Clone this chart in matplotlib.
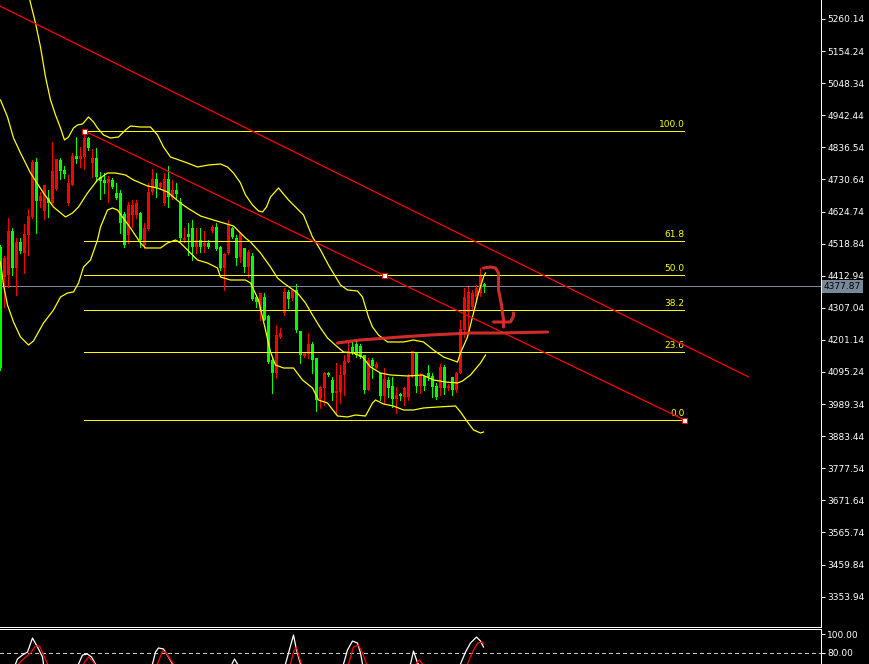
import numpy as np
import matplotlib
matplotlib.use('Agg')
import matplotlib.pyplot as plt
from matplotlib.transforms import blended_transform_factory

# candles (bar index 0..121), prices
opens = [4508, 4409, 4415, 4561, 4438, 4524, 4488, 4547, 4607, 4788,
         4660, 4627, 4669, 4653, 4699, 4795, 4762, 4653, 4712, 4808,
         4798, 4805, 4867, 4785, 4801, 4739, 4729, 4719, 4729, 4686,
         4686, 4617, 4547, 4613, 4613, 4620, 4514, 4567, 4689, 4732,
         4706, 4653, 4732, 4669, 4696, 4656, 4531, 4551, 4570, 4508,
         4531, 4511, 4521, 4561, 4574, 4508, 4438, 4488, 4570, 4537,
         4475, 4504, 4442, 4478, 4343, 4300, 4343, 4280, 4135, 4092,
         4211, 4290, 4359, 4339, 4366, 4231, 4148, 4155, 4188, 4141,
         4006, 4042, 4092, 4069, 4026, 4029, 4085, 4128, 4178, 4188,
         4181, 4151, 4036, 4135, 4108, 4092, 4016, 4069, 4049, 4006,
         4023, 4013, 4013, 4079, 4161, 4049, 4082, 4092, 4082, 4049,
         4042, 4112, 4042, 4079, 4036, 4092, 4234, 4293, 4310, 4343,
         4356, 4386]
highs = [4514, 4478, 4603, 4570, 4537, 4537, 4584, 4633, 4795, 4801,
         4689, 4712, 4696, 4854, 4798, 4801, 4775, 4745, 4818, 4871,
         4838, 4890.5, 4871, 4831, 4834, 4755, 4752, 4742, 4735, 4719,
         4696, 4623, 4656, 4663, 4663, 4623, 4587, 4719, 4765, 4752,
         4722, 4752, 4775, 4729, 4719, 4669, 4570, 4587, 4597, 4570,
         4570, 4561, 4531, 4580, 4587, 4511, 4488, 4597, 4574, 4547,
         4557, 4504, 4498, 4488, 4349, 4356, 4356, 4283, 4141, 4250,
         4240, 4372, 4366, 4369, 4386, 4231, 4161, 4224, 4194, 4141,
         4049, 4095, 4095, 4079, 4125, 4118, 4151, 4194, 4194, 4201,
         4188, 4151, 4141, 4141, 4128, 4092, 4108, 4079, 4079, 4046,
         4026, 4046, 4089, 4165, 4161, 4092, 4082, 4118, 4092, 4059,
         4122, 4118, 4056, 4079, 4095, 4267, 4372, 4376, 4366, 4382,
         4438, 4389]
lows = [4102, 4310, 4376, 4415, 4349, 4488, 4422, 4481, 4603, 4554,
        4640, 4600, 4607, 4653, 4696, 4732, 4735, 4646, 4712, 4785,
        4772, 4765, 4828, 4739, 4726, 4666, 4686, 4656, 4702, 4666,
        4554, 4508, 4521, 4574, 4603, 4508, 4504, 4564, 4683, 4673,
        4699, 4646, 4640, 4666, 4669, 4531, 4524, 4481, 4465, 4488,
        4491, 4491, 4504, 4557, 4498, 4432, 4366, 4485, 4537, 4448,
        4458, 4425, 4409, 4333, 4310, 4267, 4267, 4125, 4026, 4075,
        4207, 4283, 4306, 4333, 4227, 4125, 4145, 4141, 4092, 3966,
        3976, 3986, 4082, 4003, 3960, 3993, 4019, 4128, 4155, 4145,
        4141, 4026, 4036, 4075, 4108, 4003, 3993, 4013, 3980, 3960,
        4003, 3986, 4003, 4079, 4029, 4026, 4036, 4069, 4013, 4006,
        4019, 4023, 4036, 4019, 4029, 4092, 4211, 4227, 4300, 4326,
        4346, 4359]
closes = [4108, 4471, 4561, 4438, 4524, 4495, 4551, 4610, 4788, 4660,
          4676, 4712, 4653, 4759, 4798, 4759, 4749, 4719, 4808, 4798,
          4808, 4867, 4834, 4801, 4739, 4726, 4719, 4732, 4706, 4669,
          4587, 4514, 4646, 4646, 4653, 4531, 4570, 4689, 4732, 4706,
          4719, 4732, 4673, 4696, 4683, 4537, 4537, 4541, 4508, 4531,
          4508, 4521, 4508, 4574, 4501, 4438, 4485, 4580, 4541, 4471,
          4554, 4442, 4491, 4336, 4326, 4356, 4267, 4128, 4092, 4217,
          4224, 4359, 4336, 4366, 4234, 4151, 4158, 4188, 4135, 4003,
          4046, 4092, 4085, 4026, 4033, 4085, 4132, 4165, 4158, 4151,
          4145, 4036, 4135, 4115, 4122, 4016, 4072, 4042, 4006, 4019,
          4016, 4042, 4079, 4165, 4049, 4082, 4049, 4079, 4046, 4013,
          4112, 4042, 4049, 4036, 4092, 4237, 4343, 4359, 4356, 4372,
          4415, 4377.87]
last_price = 4377.87

# bollinger bands (bar index, price)
upper_x = [7, 7.5, 8.75, 10, 11.25, 12.5, 13.75, 15, 16, 17, 18.25, 19.25, 20.5, 22,
           23.25, 24.25, 25.75, 27.5, 29.5, 31.25, 32.5, 35, 37.5, 39.25, 40.75, 42.5,
           46.75, 49.25, 52, 55, 56.75, 58.25, 60, 61.25, 63, 64.5, 65.5, 66.5, 67.5,
           69.5, 72, 75.75, 78, 80, 82, 85, 86.75, 89.25, 90.5, 92, 93, 94.5, 96.75,
           100.75, 103.25, 105.75, 108.25, 110.75, 114.25, 115, 116.75, 118.25, 119.5,
           120.75, 121.25]
upper_y = [5342.6, 5312.9, 5246.9, 5167.7, 5068.7, 4992.8, 4943.3, 4900.4, 4860.8,
           4870.7, 4900.4, 4910.3, 4913.6, 4936.7, 4920.2, 4900.4, 4877.3, 4867.4,
           4870.7, 4893.8, 4907.0, 4903.7, 4903.7, 4877.3, 4837.7, 4804.7, 4784.9,
           4771.7, 4778.3, 4781.6, 4771.7, 4751.9, 4718.9, 4679.3, 4646.3, 4626.5,
           4623.2, 4639.7, 4672.7, 4702.4, 4662.8, 4613.3, 4540.7, 4497.8, 4448.3,
           4382.3, 4365.8, 4362.5, 4342.7, 4276.7, 4243.7, 4217.3, 4194.2, 4194.2,
           4200.8, 4194.2, 4167.8, 4144.7, 4128.2, 4157.9, 4210.7, 4289.9, 4355.9,
           4408.7, 4421.9]
middle_x = [0, 1.75, 3.25, 5, 7.5, 10.75, 13.25, 16.25, 18, 19.5, 21.75, 24.25, 26.75,
            28.75, 31.25, 33.25, 36.75, 39.25, 41.75, 45, 46.75, 50, 53.25, 58.25,
            61.25, 62.5, 65, 67.5, 69.25, 70.75, 72.5, 74.25, 76.25, 78, 80, 81.75,
            84.25, 85.75, 88.25, 90.5, 92.5, 95, 97.5, 101.75, 105.5, 108.25, 111.25,
            114.25, 115.5, 117.5, 120, 121.25]
middle_y = [4992.8, 4936.7, 4867.4, 4817.9, 4751.9, 4685.9, 4639.7, 4606.7, 4619.9,
            4639.7, 4685.9, 4728.8, 4751.9, 4751.9, 4745.3, 4728.8, 4709.0, 4702.4,
            4689.2, 4652.9, 4636.4, 4610.0, 4596.8, 4577.0, 4537.4, 4524.2, 4487.9,
            4441.7, 4405.4, 4388.9, 4372.4, 4355.9, 4322.9, 4283.3, 4240.4, 4207.4,
            4177.7, 4161.2, 4157.9, 4144.7, 4111.7, 4091.9, 4085.3, 4082.0, 4085.3,
            4068.8, 4062.2, 4058.9, 4065.5, 4085.3, 4124.9, 4151.3]
lower_x = [0, 0.75, 1.75, 3.25, 5, 7, 8.25, 10.75, 13.25, 15, 16.75, 18.25, 19.5, 20.75,
           22.5, 24.25, 25, 26.75, 28, 29.25, 30.5, 32.5, 35, 36.25, 40, 41.75, 43.75,
           45, 46.75, 49.25, 51.75, 54.25, 55, 57.5, 61.25, 62.5, 64.5, 66.25, 67.5,
           68.75, 70.75, 73.25, 75.5, 78, 79.5, 81.75, 84.25, 86.75, 88.75, 91.25, 93,
           93.75, 95.75, 98.25, 100.75, 103.25, 105.75, 109.25, 113.75, 115, 116.75,
           118.25, 120, 120.75]
lower_y = [4458.2, 4382.3, 4316.3, 4260.2, 4210.7, 4184.3, 4197.5, 4256.9, 4299.8,
           4342.7, 4355.9, 4359.2, 4388.9, 4441.7, 4464.8, 4530.8, 4573.7, 4629.8,
           4636.4, 4629.8, 4606.7, 4570.4, 4520.9, 4504.4, 4504.4, 4520.9, 4530.8,
           4520.9, 4497.8, 4464.8, 4454.9, 4438.4, 4408.7, 4398.8, 4398.8, 4388.9,
           4332.8, 4233.8, 4161.2, 4118.3, 4108.4, 4108.4, 4068.8, 4042.4, 4002.8,
           3992.9, 3950.0, 3946.7, 3953.3, 3950.0, 3992.9, 4002.8, 3989.6, 3983.0,
           3969.8, 3969.8, 3976.4, 3979.7, 3983.0, 3963.2, 3930.2, 3903.8, 3893.9,
           3897.2]

# fibonacci retracement
fib_start, fib_end = 21, 171
fib_high, fib_low = 4890.5, 3936.8
fib_levels = [0.0, 23.6, 38.2, 50.0, 61.8, 100.0]

# trend line
trend_x = [-1, 187]
trend_y = [5308.5, 4079.0]

# hand drawn marks
mark1_x = [84.25, 90, 100, 107.5, 117.5, 125, 136.75]
mark1_y = [4190.9, 4200.8, 4210.7, 4217.3, 4223.9, 4223.9, 4227.2]
mark2_x = [120.75, 122.5, 123.75, 124.5, 124.5, 125.25, 125.75, 125.75]
mark2_y = [4438.4, 4441.7, 4438.4, 4421.9, 4365.8, 4316.3, 4266.8, 4243.7]
mark3_x = [123.25, 126.25, 127.5, 128.25, 128.25]
mark3_y = [4260.2, 4260.2, 4260.2, 4280.0, 4289.9]

# price axis
price_ticks = [5260.14, 5154.24, 5048.34, 4942.44, 4836.54, 4730.64, 4624.74, 4518.84,
               4412.94, 4307.04, 4201.14, 4095.24, 3989.34, 3883.44, 3777.54, 3671.64,
               3565.74, 3459.84, 3353.94]

# oscillator (white main, red signal)
osc_main_x = [0, 3.75, 4.25, 5.5, 6.75, 8, 9.25, 10.5, 10.75, 15, 19.5, 20.5, 21.75, 22.75,
              23.75, 30, 38, 38.75, 39.5, 40.75, 42, 43, 50, 57.5, 58, 58.5, 59.25, 65,
              71.25, 72, 73.25, 74, 75, 80, 85.75, 86.75, 88, 89.25, 90, 90.5, 96, 102.5,
              103.25, 103.75, 104.25, 110, 115, 116.25, 117.5, 119, 120, 120.75]
osc_main_v = [40, 68.4, 73.7, 77.9, 81, 95.8, 86.3, 75.8, 68.4, 40, 68.4, 77.9, 78.9, 75.8,
              68.4, 40, 68.4, 81, 85.3, 84.2, 75.8, 68.4, 40, 65, 69.5, 73.7, 68.4, 40,
              68.4, 80, 98.9, 83.2, 68.4, 40, 68.4, 83.2, 92.6, 90.5, 80, 68.4, 40, 68.4,
              82.1, 75.8, 69.5, 40, 68.4, 81, 90.5, 96.8, 92.6, 86.3]
osc_sig_x = [0, 4.5, 5.75, 7.5, 8.75, 9.75, 10.75, 11.75, 16, 20.75, 22, 23.25, 23.75, 30,
             39.25, 40.5, 41.25, 43.25, 50, 66, 72.5, 73.25, 74, 74.5, 75.25, 80, 87,
             88.25, 89.5, 90.5, 91.5, 97, 103.5, 104.25, 104.75, 105.5, 110, 116.75, 118,
             119.25, 120.5, 120.75]
osc_sig_v = [40, 68.4, 73.7, 80, 87.4, 87.4, 77.9, 68.4, 40, 68.4, 75.8, 70.5, 66, 40,
             68.4, 82.1, 81, 68.4, 40, 40, 68.4, 81, 86.3, 77.9, 68.4, 40, 68.4, 86.3,
             88.4, 80, 68.4, 40, 66, 70.5, 72.6, 68.4, 40, 68.4, 81, 90.5, 91.6, 89.5]

W, H = 870, 664
px = 0.72  # one pixel in points
fig = plt.figure(figsize=(W / 100, H / 100), dpi=100, facecolor='black')
ax = fig.add_axes([0, 1 - 626.5 / H, 821 / W, 626.5 / H], facecolor='black')
ax2 = fig.add_axes([0, 0, 821 / W, 35 / H], facecolor='black')

for a in (ax, ax2):
    a.set_xlim(-0.125, 205.125)
    a.set_xticks([])
    a.spines['left'].set_visible(False)
    a.spines['right'].set_color('white')
    a.spines['right'].set_linewidth(px)
ax.spines['top'].set_visible(False)
ax.spines['bottom'].set_color('white')
ax.spines['bottom'].set_linewidth(px)
ax2.spines['bottom'].set_visible(False)
ax2.spines['top'].set_color('white')
ax2.spines['top'].set_linewidth(px)

ax.set_ylim(3255.3, 5322.8)
ax2.set_ylim(68.4, 105.3)

# candles
idx = np.arange(len(opens))
o = np.array(opens, dtype=float)
c = np.array(closes, dtype=float)
col = np.where(c > o, '#ff0000', '#00ff00')
ax.vlines(idx, lows, highs, colors=col, lw=px, zorder=2, antialiased=False)
ax.bar(idx, np.maximum(np.abs(c - o), 2.5), bottom=np.minimum(o, c), width=0.8,
       color=col, linewidth=0, zorder=2, antialiased=False)

# current price line
ax.axhline(last_price, color='#778899', lw=px, zorder=1, antialiased=False)

# bands
for bx, by in ((upper_x, upper_y), (middle_x, middle_y), (lower_x, lower_y)):
    ax.plot(bx, by, color='#ffff00', lw=0.9, zorder=3)

# fibo
fib_col = '#ffff00'
for lv in fib_levels:
    p = fib_low + (fib_high - fib_low) * lv / 100
    ax.plot([fib_start, fib_end], [p, p], color=fib_col, lw=px, zorder=3, antialiased=False)
    ax.annotate('%.1f' % lv, (fib_end, p), xytext=(0, 1.5), textcoords='offset points',
                ha='right', va='bottom', color='#ffff00', fontsize=6.5, zorder=4)
ax.plot([fib_start, fib_end], [fib_high, fib_low], color='#ff0000', lw=0.9, zorder=4)
ax.plot(trend_x, trend_y, color='#ff0000', lw=0.9, zorder=4)
mid = (fib_start + fib_end) / 2
ax.plot([fib_start, mid, fib_end], [fib_high, (fib_high + fib_low) / 2, fib_low], 's',
        ms=3.6, mfc='white', mec='#ff0000', mew=px, zorder=5)

# hand marks
for mx, my in ((mark1_x, mark1_y), (mark2_x, mark2_y), (mark3_x, mark3_y)):
    ax.plot(mx, my, color='#e83030', lw=2.2, alpha=0.9, solid_capstyle='round',
            solid_joinstyle='round', zorder=6)

# price axis
ax.yaxis.tick_right()
ax.set_yticks(price_ticks)
ax.set_yticklabels(['%.2f' % t for t in price_ticks])
ax.tick_params(axis='y', colors='white', length=3, width=px, labelsize=6.5, pad=1.5)
tr = blended_transform_factory(ax.transAxes, ax.transData)
ax.text(1.0 + 3 / 821, last_price, '%.2f' % last_price, transform=tr, ha='left',
        va='center', fontsize=6.5, color='black', zorder=7, clip_on=False,
        bbox=dict(boxstyle='square,pad=0.2', fc='#778899', ec='none'))

# oscillator
ax2.axhline(80, color='#c8c8c8', lw=px, ls=(0, (4, 4)), antialiased=False)
ax2.plot(osc_main_x, osc_main_v, color='white', lw=0.9)
ax2.plot(osc_sig_x, osc_sig_v, color='#ff0000', lw=0.9)
ax2.yaxis.tick_right()
ax2.set_yticks([100, 80])
ax2.set_yticklabels(['100.00', '80.00'])
ax2.tick_params(axis='y', colors='white', length=3, width=px, labelsize=6.5, pad=1.5)

fig.savefig('out.png', dpi=100, facecolor='black')
